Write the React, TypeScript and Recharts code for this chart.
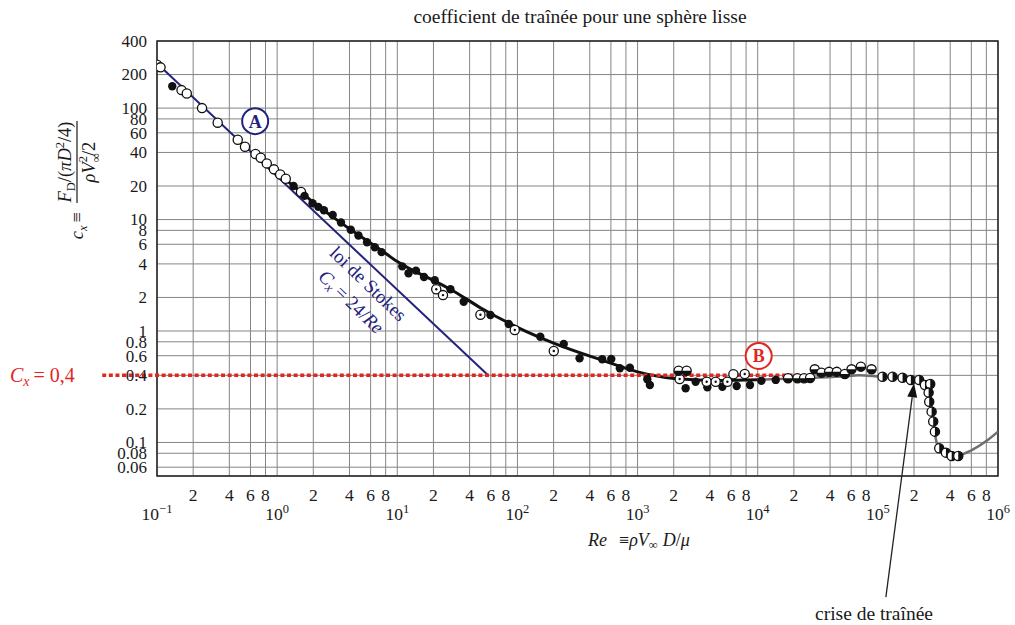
import React from "react";
import { ComposedChart, Line, Scatter, XAxis, YAxis, CartesianGrid, ReferenceLine, ReferenceDot, ReferenceArea } from "recharts";

const SERIF = '"Liberation Serif", "DejaVu Serif", serif';
const INK = "#1a1a1a";
const NAVY = "#23237e";
const RED = "#e2261e";

// axes
const xTicks = [0.1, 0.2, 0.4, 0.6, 0.8, 1, 2, 4, 6, 8, 10, 20, 40, 60, 80, 100, 200, 400, 600, 800,
  1000, 2000, 4000, 6000, 8000, 1e4, 2e4, 4e4, 6e4, 8e4, 1e5, 2e5, 4e5, 6e5, 8e5, 1e6];
const xTickLabels = ["10|−1", "2", "4", "6", "8", "10|0", "2", "4", "6", "8", "10|1", "2", "4", "6", "8",
  "10|2", "2", "4", "6", "8", "10|3", "2", "4", "6", "8", "10|4", "2", "4", "6", "8", "10|5", "2", "4", "6", "8", "10|6"];
const yTicks = [0.06, 0.08, 0.1, 0.2, 0.4, 0.6, 0.8, 1, 2, 4, 6, 8, 10, 20, 40, 60, 80, 100, 200, 400];

// loi de Stokes (two ends)
const stokes = [{ x: 0.105, y: 240 }, { x: 57, y: 0.4 }];

// courbe moyenne
const curveMain = [
  { x: 0.7, y: 35 }, { x: 1, y: 26 }, { x: 1.5, y: 18.5 }, { x: 2, y: 14.3 }, { x: 3, y: 10.3 },
  { x: 5, y: 7.0 }, { x: 7, y: 5.5 }, { x: 10, y: 4.2 }, { x: 15, y: 3.3 }, { x: 20, y: 2.85 },
  { x: 30, y: 2.25 }, { x: 50, y: 1.6 }, { x: 100, y: 1.08 }, { x: 200, y: 0.78 }, { x: 500, y: 0.55 },
  { x: 1000, y: 0.43 }, { x: 2000, y: 0.375 }, { x: 5000, y: 0.36 }, { x: 1e4, y: 0.365 },
];
const curveTail = [
  { x: 1e4, y: 0.365 }, { x: 2e4, y: 0.375 }, { x: 5e4, y: 0.39 }, { x: 7e4, y: 0.4 }, { x: 1e5, y: 0.39 },
  { x: 2e5, y: 0.37 }, { x: 2.6e5, y: 0.33 }, { x: 2.8e5, y: 0.22 }, { x: 2.95e5, y: 0.13 }, { x: 3.2e5, y: 0.09 },
  { x: 3.7e5, y: 0.079 }, { x: 4.5e5, y: 0.076 }, { x: 6e5, y: 0.085 }, { x: 8e5, y: 0.103 }, { x: 1e6, y: 0.125 },
];

// mesures
const openPts = [
  { x: 0.1, y: 245 }, { x: 0.107, y: 232 }, { x: 0.16, y: 145 }, { x: 0.177, y: 135 }, { x: 0.237, y: 100 },
  { x: 0.32, y: 74 }, { x: 0.47, y: 52 }, { x: 0.54, y: 45 }, { x: 0.66, y: 38.7 }, { x: 0.73, y: 35.8 },
  { x: 0.82, y: 31.9 }, { x: 0.94, y: 28.2 }, { x: 1.06, y: 25.4 }, { x: 1.18, y: 23.2 }, { x: 1.58, y: 17.7 },
  { x: 6275, y: 0.409 },
];
const filledPts = [
  { x: 0.134, y: 157 }, { x: 1.37, y: 20 }, { x: 1.69, y: 16.3 }, { x: 1.97, y: 14.0 }, { x: 2.2, y: 13.0 },
  { x: 2.45, y: 12.1 }, { x: 2.9, y: 11.0 }, { x: 3.4, y: 9.4 }, { x: 4.1, y: 8.1 }, { x: 4.75, y: 7.2 },
  { x: 5.6, y: 6.25 }, { x: 6.5, y: 5.65 }, { x: 7.4, y: 5.1 }, { x: 11, y: 3.8 }, { x: 12.4, y: 3.3 },
  { x: 14.3, y: 3.48 }, { x: 16.7, y: 3.05 }, { x: 20.5, y: 2.85 }, { x: 27.7, y: 2.37 }, { x: 35.7, y: 1.83 },
  { x: 59.6, y: 1.39 }, { x: 84.6, y: 1.156 }, { x: 155, y: 0.889 }, { x: 243, y: 0.764 }, { x: 329, y: 0.569 },
  { x: 508, y: 0.557 }, { x: 604, y: 0.561 }, { x: 712, y: 0.463 }, { x: 863, y: 0.468 }, { x: 1205, y: 0.369 },
  { x: 1266, y: 0.328 }, { x: 2512, y: 0.306 }, { x: 3043, y: 0.351 }, { x: 3810, y: 0.313 }, { x: 5080, y: 0.316 },
  { x: 6683, y: 0.321 }, { x: 8628, y: 0.328 }, { x: 10735, y: 0.358 }, { x: 14125, y: 0.364 },
];
const dottedPts = [
  { x: 21.1, y: 2.37 }, { x: 24.0, y: 2.1 }, { x: 49.2, y: 1.4 }, { x: 95, y: 1.02 }, { x: 200.7, y: 0.662 },
  { x: 2240, y: 0.371 }, { x: 3758, y: 0.351 }, { x: 4467, y: 0.351 }, { x: 5592, y: 0.351 }, { x: 7796, y: 0.411 },
];
const halfHPts = [
  { x: 2197, y: 0.44 }, { x: 2561, y: 0.44 }, { x: 17889, y: 0.377 }, { x: 21420, y: 0.377 }, { x: 24310, y: 0.377 },
  { x: 27280, y: 0.379 }, { x: 29850, y: 0.453 }, { x: 33950, y: 0.423 }, { x: 39260, y: 0.43 }, { x: 45520, y: 0.43 },
  { x: 53090, y: 0.411 }, { x: 60380, y: 0.453 }, { x: 72180, y: 0.479 }, { x: 88610, y: 0.453 },
];
const halfVPts = [
  { x: 109400, y: 0.389 }, { x: 132600, y: 0.389 }, { x: 160600, y: 0.381 }, { x: 188400, y: 0.364 },
  { x: 220800, y: 0.364 }, { x: 246500, y: 0.328 }, { x: 272800, y: 0.335 }, { x: 264500, y: 0.28 },
  { x: 267600, y: 0.232 }, { x: 280300, y: 0.189 }, { x: 288900, y: 0.154 }, { x: 298500, y: 0.125 },
  { x: 324200, y: 0.0887 }, { x: 368700, y: 0.081 }, { x: 411400, y: 0.0757 }, { x: 466900, y: 0.0757 },
];

const R = 4.6;
const OpenDot = (p: any) => <circle cx={p.cx} cy={p.cy} r={R} fill="#fff" stroke="#111" strokeWidth={1.3} />;
const FilledDot = (p: any) => <circle cx={p.cx} cy={p.cy} r={4.2} fill="#111" />;
const DottedDot = (p: any) => (
  <g>
    <circle cx={p.cx} cy={p.cy} r={R} fill="#fff" stroke="#111" strokeWidth={1.3} />
    <circle cx={p.cx} cy={p.cy} r={1.2} fill="#111" />
  </g>
);
const HalfHDot = (p: any) => (
  <g>
    <circle cx={p.cx} cy={p.cy} r={R} fill="#fff" stroke="#111" strokeWidth={1.3} />
    <path d={`M ${p.cx - R} ${p.cy} A ${R} ${R} 0 0 0 ${p.cx + R} ${p.cy} Z`} fill="#111" />
  </g>
);
const HalfVDot = (p: any) => (
  <g>
    <circle cx={p.cx} cy={p.cy} r={R} fill="#fff" stroke="#111" strokeWidth={1.3} />
    <path d={`M ${p.cx} ${p.cy - R} A ${R} ${R} 0 0 1 ${p.cx} ${p.cy + R} Z`} fill="#111" />
  </g>
);

function XTick(props: any) {
  const { x, y, payload } = props;
  const lab = xTickLabels[xTicks.indexOf(payload.value)] ?? "";
  if (lab.includes("|")) {
    const [b, e] = lab.split("|");
    return (
      <text x={x} y={y + 44} textAnchor="middle" fontSize={17.5} fill={INK} fontFamily={SERIF}>
        {b}<tspan dy={-7} fontSize={12.5}>{e}</tspan>
      </text>
    );
  }
  return <text x={x} y={y + 25} textAnchor="middle" fontSize={17.5} fill={INK} fontFamily={SERIF}>{lab}</text>;
}

function YTick(props: any) {
  const { x, y, payload } = props;
  return <text x={x} y={y} dy="0.35em" textAnchor="end" fontSize={17} fill={INK} fontFamily={SERIF}>{String(payload.value)}</text>;
}

function Arrow(props: any) {
  const { x1, y1, x2, y2 } = props;
  const a = Math.atan2(y2 - y1, x2 - x1);
  const L = 14, W = 5;
  const bx = x2 - L * Math.cos(a), by = y2 - L * Math.sin(a);
  const px = -Math.sin(a) * W, py = Math.cos(a) * W;
  return (
    <g>
      <line x1={x1} y1={y1} x2={bx} y2={by} stroke="#222" strokeWidth={1.3} />
      <path d={`M ${x2} ${y2} L ${bx + px} ${by + py} L ${bx - px} ${by - py} Z`} fill="#111" />
    </g>
  );
}

export default function App() {
  return (
    <div style={{ position: "absolute", left: 0, top: 0, width: 1015, height: 625, background: "#fff" }}>
      <ComposedChart width={1015} height={625} margin={{ top: 41, right: 17, bottom: 89, left: 97 }}>
        <CartesianGrid stroke="#858585" strokeWidth={1} />
        <XAxis type="number" dataKey="x" scale="log" domain={[0.1, 1e6]} ticks={xTicks} interval={0}
          allowDataOverflow tick={<XTick />} tickLine={false} axisLine={false} tickSize={0} tickMargin={0} height={60} />
        <YAxis type="number" dataKey="y" scale="log" domain={[0.05, 400]} ticks={yTicks} interval={0}
          allowDataOverflow tick={<YTick />} tickLine={false} axisLine={false} tickSize={0} tickMargin={10} width={60} />
        <Line data={stokes} dataKey="y" type="linear" stroke={NAVY} strokeWidth={2} dot={false} isAnimationActive={false} />
        <Line data={curveMain} dataKey="y" type="monotone" stroke="#111" strokeWidth={3} dot={false} isAnimationActive={false} />
        <Line data={curveTail} dataKey="y" type="monotone" stroke="#6e6e6e" strokeWidth={2.5} dot={false} isAnimationActive={false} />
        <Scatter data={openPts} dataKey="y" shape={OpenDot} isAnimationActive={false} />
        <Scatter data={filledPts} dataKey="y" shape={FilledDot} isAnimationActive={false} />
        <Scatter data={dottedPts} dataKey="y" shape={DottedDot} isAnimationActive={false} />
        <Scatter data={halfHPts} dataKey="y" shape={HalfHDot} isAnimationActive={false} />
        <Scatter data={halfVPts} dataKey="y" shape={HalfVDot} isAnimationActive={false} />
        <ReferenceLine segment={[{ x: 0.035, y: 0.4 }, { x: 21500, y: 0.4 }]} ifOverflow="visible"
          stroke={RED} strokeWidth={3.5} strokeDasharray="4 2.6" />
        <ReferenceLine segment={[{ x: 1.166e5, y: 0.0041 }, { x: 2.0e5, y: 0.34 }]} ifOverflow="visible" shape={Arrow} />
        <ReferenceDot x={0.656} y={76.4} r={13} fill="#fff" stroke={NAVY} strokeWidth={2}
          label={{ value: "A", position: "center", fill: NAVY, fontSize: 18, fontWeight: 700, fontFamily: SERIF }} />
        <ReferenceDot x={10190} y={0.597} r={13} fill="#fff" stroke={RED} strokeWidth={2}
          label={{ value: "B", position: "center", fill: RED, fontSize: 18, fontWeight: 700, fontFamily: SERIF }} />
        <ReferenceArea x1={0.1} x2={1e6} y1={0.05} y2={400} fill="none" stroke="#222" strokeWidth={1.5} />
      </ComposedChart>

      <svg width={1015} height={625} style={{ position: "absolute", left: 0, top: 0, pointerEvents: "none" }}
        fontFamily={SERIF} fill={INK}>
        <text x={580} y={23} textAnchor="middle" fontSize={19.5}>coefficient de traînée pour une sphère lisse</text>

        <g transform="translate(77,162) rotate(-90)" fontSize={18.5}>
          <text x={0} y={-6} textAnchor="middle">
            <tspan fontStyle="italic">F</tspan><tspan fontSize={12.5} dy={4}>D</tspan>
            <tspan dy={-4}>/(</tspan><tspan fontStyle="italic">πD</tspan>
            <tspan fontSize={12.5} dy={-7}>2</tspan><tspan dy={7}>/4)</tspan>
          </text>
          <line x1={-41} x2={41} y1={0} y2={0} stroke={INK} strokeWidth={1.2} />
          <text x={0} y={18} textAnchor="middle">
            <tspan fontStyle="italic">ρV</tspan>
            <tspan fontSize={12.5} dy={5}>∞</tspan>
            <tspan fontSize={12.5} dx={-9} dy={-13}>2</tspan>
            <tspan dy={8}>/2</tspan>
          </text>
          <text x={-50} y={6} textAnchor="end">
            <tspan fontStyle="italic">c</tspan><tspan fontSize={12.5} dy={4} fontStyle="italic">x</tspan>
            <tspan dy={-4} dx={3}>≡</tspan>
          </text>
        </g>

        <text x={10} y={382} fontSize={20} fill={RED}>
          <tspan fontStyle="italic">C</tspan><tspan fontStyle="italic" fontSize={14} dy={4}>x</tspan>
          <tspan dy={-4} dx={4}>= 0,4</tspan>
        </text>

        <g fill={NAVY} fontSize={19}>
          <text x={368} y={290} textAnchor="middle" transform="rotate(44 368 284)">loi de Stokes</text>
          <text x={351} y={308} textAnchor="middle" transform="rotate(44 351 302)">
            <tspan fontStyle="italic">C</tspan><tspan fontStyle="italic" fontSize={13} dy={3}>x</tspan>
            <tspan dy={-3} dx={4}>= 24/</tspan><tspan fontStyle="italic">Re</tspan>
          </text>
        </g>

        <text x={588} y={546} fontSize={18}>
          <tspan fontStyle="italic">Re</tspan><tspan dx={12}>≡</tspan><tspan fontStyle="italic">ρV</tspan>
          <tspan fontSize={12.5} dy={3}>∞</tspan><tspan fontStyle="italic" dy={-3} dx={5}>D</tspan>
          <tspan>/</tspan><tspan fontStyle="italic">μ</tspan>
        </text>

        <text x={874} y={620} textAnchor="middle" fontSize={19.5}>crise de traînée</text>
      </svg>
    </div>
  );
}
